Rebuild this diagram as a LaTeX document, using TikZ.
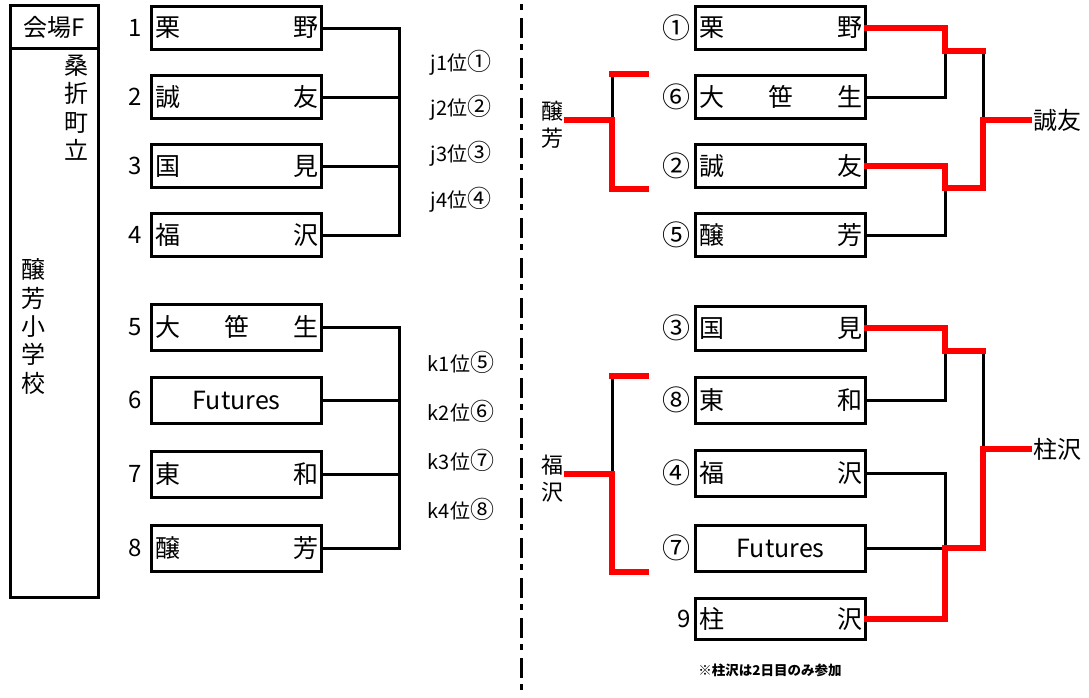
\documentclass[tikz,border=0pt]{standalone}
\usepackage{fontspec}
\setmainfont{Noto Sans CJK JP}
\usetikzlibrary{calc}

\tikzset{
  team/.style={draw, line width=3pt, minimum width=170pt, text width=163pt,
    inner xsep=3.5pt, inner ysep=0pt, font=\fontsize{25}{28}\selectfont},
  seed/.style={anchor=east, inner sep=0pt, font=\fontsize{24}{28}\selectfont},
  rank/.style={inner sep=0pt, font=\fontsize{20}{24}\selectfont},
  tate/.style={align=center, inner sep=4pt},
  wire/.style={line width=3pt, line cap=rect},
  win/.style={line width=6pt, red, line cap=rect, line join=miter},
}
\newcommand{\maru}[1]{{\fontsize{28}{28}\selectfont#1}}

\begin{document}
\begin{tikzpicture}[x=1pt, y=-1pt]
    \useasboundingbox (0,0) rectangle (1089,697);
    % venue column
    \draw[line width=3pt] (10,5) rectangle (98,597);
    \draw[line width=3pt] (10,48) -- (98,48);
    \node[font=\fontsize{24}{28}\selectfont, inner sep=0pt] (venue) at (54,27) {会場F};
    \node[tate, font=\fontsize{24}{28.5}\selectfont] (town) at (76,107.5) {桑\\折\\町\\立};
    \node[tate, font=\fontsize{24}{28.3}\selectfont] (school) at (33,326.5) {醸\\芳\\小\\学\\校};

    % day 1 leagues
    \foreach \n/\y/\h/\lab in {1/28/43/{栗\hfill 野}, 2/97/43/{誠\hfill 友}, 3/166/43/{国\hfill 見}, 4/235/43/{福\hfill 沢},
        5/327/46/{大\hfill 笹\hfill 生}, 6/400/46/{\hfill Futures\hfill\null}, 7/474/46/{東\hfill 和}, 8/548/46/{醸\hfill 芳}} {
        \node[team, minimum height=\h] (a\n) at (236.5,\y) {\lab};
        \node[seed, xshift=-8pt] (n\n) at (a\n.west) {\n};
    }
    \coordinate (jx) at (399,0);
    \foreach \n in {1,...,8}
        \draw[wire] (a\n.east) -- (a\n.east -| jx);
    \draw[wire] (a1.east -| jx) -- (a4.east -| jx);
    \draw[wire] (a5.east -| jx) -- (a8.east -| jx);
    \foreach \i/\y/\c in {1/63/①, 2/108/②, 3/154/③, 4/200/④}
        \node[rank] (j\i) at (461,\y) {j\i{}位{\fontsize{24}{24}\selectfont\c}};
    \foreach \i/\y/\c in {1/362/⑤, 2/411/⑥, 3/460/⑦, 4/509/⑧}
        \node[rank] (k\i) at (461,\y) {k\i{}位{\fontsize{24}{24}\selectfont\c}};

    % split
    \draw[line width=3pt, dash pattern=on 20pt off 6pt on 6pt off 8pt, dash phase=22pt] (521,0) -- (521,697);

    % day 2 bracket
    \foreach \n/\c/\y/\h/\lab in {1/\maru{①}/28/43/{栗\hfill 野}, 6/\maru{⑥}/97/43/{大\hfill 笹\hfill 生}, 2/\maru{②}/166/43/{誠\hfill 友},
        5/\maru{⑤}/235/43/{醸\hfill 芳}, 3/\maru{③}/328/44/{国\hfill 見}, 8/\maru{⑧}/400/46/{東\hfill 和}, 4/\maru{④}/473/46/{福\hfill 沢},
        7/\maru{⑦}/548/46/{\hfill Futures\hfill\null}, 9/9/619/41/{柱\hfill 沢}} {
        \node[team, minimum height=\h] (s\n) at (780.5,\y) {\lab};
        \node[seed, xshift=-3pt] (c\n) at (s\n.west) {\c};
    }
    \node[font=\fontsize{24}{28}\selectfont, inner sep=4pt] (w1) at (1057,120) {誠友};
    \node[font=\fontsize{24}{28}\selectfont, inner sep=4pt] (w2) at (1057,449) {柱沢};
    \node[font=\fontsize{13.5}{16}\selectfont\bfseries, inner sep=0pt] (memo) at (770,670) {※柱沢は2日目のみ参加};

    \coordinate (fx) at (983,0);
    \coordinate (q1) at (945,51);
    \coordinate (q2) at (945,188);
    \coordinate (q3) at (945,351);
    \coordinate (q4) at (945,548);
    \draw[wire] (s6.east) -| (q1);
    \draw[wire] (s5.east) -| (q2);
    \draw[wire] (q1 -| fx) -- (w1 -| fx);
    \draw[wire] (s8.east) -| (q3);
    \draw[wire] (s4.east) -| (q4);
    \draw[wire] (s7.east) -- (q4);
    \draw[wire] (q3 -| fx) -- (w2 -| fx);
    \draw[win] (s1.east) -| (q1) -- (q1 -| fx);
    \draw[win] (s2.east) -| (q2) -- (q2 -| fx) -- (w1 -| fx) -- (w1.west);
    \draw[win] (s3.east) -| (q3) -- (q3 -| fx);
    \draw[win] (s9.east) -| (q4) -- (q4 -| fx) -- (w2 -| fx) -- (w2.west);

    % third place
    \node[tate, font=\fontsize{22}{27}\selectfont] (l1) at (552,125) {醸\\芳};
    \node[tate, font=\fontsize{22}{27}\selectfont] (l2) at (552,478.5) {福\\沢};
    \coordinate (m1) at (612,120);
    \coordinate (m2) at (612,474);
    \coordinate (e1) at (646,74);
    \coordinate (e2) at (646,189);
    \coordinate (e3) at (646,376);
    \coordinate (e4) at (646,572);
    \draw[wire] (m1) -- (m1 |- e1);
    \draw[wire] (m2) -- (m2 |- e3);
    \draw[win] (m1 |- e1) -- (e1);
    \draw[win] (l1.east |- m1) -- (m1) |- (e2);
    \draw[win] (m2 |- e3) -- (e3);
    \draw[win] (l2.east |- m2) -- (m2) |- (e4);
\end{tikzpicture}
\end{document}
